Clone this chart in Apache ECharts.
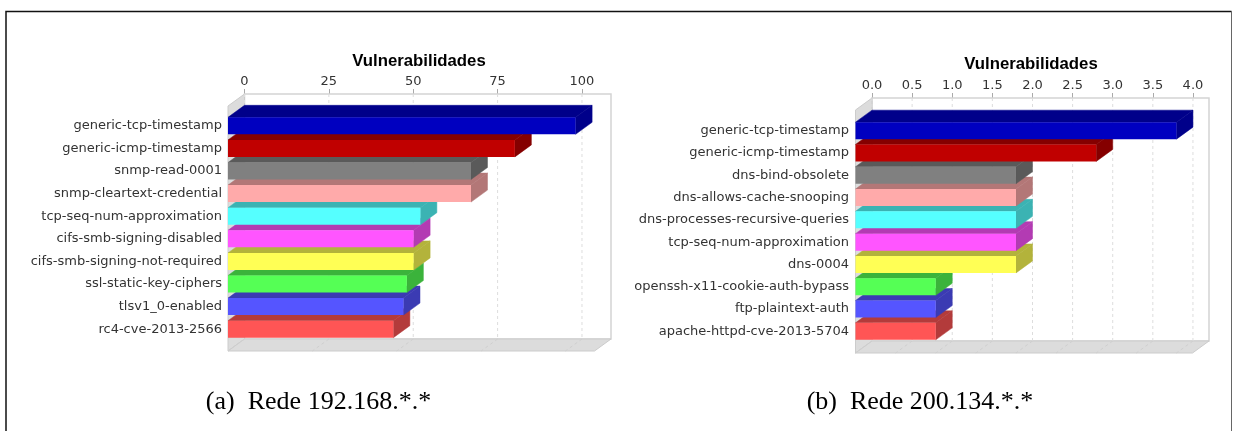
<!DOCTYPE html>
<html>
<head>
<meta charset="utf-8">
<style>
  html, body { margin: 0; padding: 0; background: #fff; }
  #chart { width: 1233px; height: 431px; }
</style>
<script src="https://cdn.jsdelivr.net/npm/echarts@6/dist/echarts.min.js"></script>
</head>
<body>
<div id="chart"></div>
<script>
const leftCategories = ['generic-tcp-timestamp', 'generic-icmp-timestamp', 'snmp-read-0001', 'snmp-cleartext-credential', 'tcp-seq-num-approximation', 'cifs-smb-signing-disabled', 'cifs-smb-signing-not-required', 'ssl-static-key-ciphers', 'tlsv1_0-enabled', 'rc4-cve-2013-2566']
const leftValues = [103, 85, 72, 72, 57, 55, 55, 53, 52, 49]
const leftTicks = [0, 25, 50, 75, 100]

const rightCategories = ['generic-tcp-timestamp', 'generic-icmp-timestamp', 'dns-bind-obsolete', 'dns-allows-cache-snooping', 'dns-processes-recursive-queries', 'tcp-seq-num-approximation', 'dns-0004', 'openssh-x11-cookie-auth-bypass', 'ftp-plaintext-auth', 'apache-httpd-cve-2013-5704']
const rightValues = [4, 3, 2, 2, 2, 2, 2, 1, 1, 1]
const rightTicks = [0, 0.5, 1, 1.5, 2, 2.5, 3, 3.5, 4]

const frontColors = ['#0000c0', '#c00000', '#808080', '#ffaaaa', '#55ffff', '#ff55ff', '#ffff55', '#55ff55', '#5555ff', '#ff5555']
const shadeColors = ['#00008a', '#850000', '#5a5a5a', '#b37777', '#3bb3b3', '#b33bb3', '#b3b33b', '#3bb33b', '#3b3bb3', '#b33b3b']

const axisTitle = 'Vulnerabilidades'
const captions = ['(a)  Rede 192.168.*.*', '(b)  Rede 200.134.*.*']

// 3d depth of the plot box
const dx = 16.5
const dy = 12
const barHeight = 17
const labelFont = 'DejaVu Sans'

const plots = [
  { left: 244.5, width: 366.5, top: 114.5, height: 226, wallTop: 94, wallBottom: 339, max: 108.6, margin: 22.5, categories: leftCategories, values: leftValues, ticks: leftTicks, fmt: v => String(v) },
  { left: 872, width: 337, top: 119.5, height: 223, wallTop: 98, wallBottom: 341, max: 4.2, margin: 23, categories: rightCategories, values: rightValues, ticks: rightTicks, fmt: v => v.toFixed(1) }
]

function wallSeries(p, idx) {
  return {
    type: 'custom',
    xAxisIndex: idx,
    yAxisIndex: idx,
    silent: true,
    clip: false,
    z: 1,
    data: [[0, 0]],
    renderItem() {
      const l = p.left, r = p.left + p.width, t = p.wallTop, b = p.wallBottom
      const line = { fill: '#dcdcdc', stroke: '#cccccc', lineWidth: 1 }
      return {
        type: 'group',
        children: [
          { type: 'rect', shape: { x: l, y: t, width: p.width, height: b - t }, style: { fill: '#fff', stroke: '#d4d4d4', lineWidth: 1.5 } },
          { type: 'polygon', shape: { points: [[l - dx, t + dy], [l, t], [l, b], [l - dx, b + dy]] }, style: line },
          { type: 'polygon', shape: { points: [[l - dx, b + dy], [l, b], [r, b], [r - dx, b + dy]] }, style: line }
        ]
      }
    }
  }
}

function gridSeries(p, idx) {
  return {
    type: 'custom',
    xAxisIndex: idx,
    yAxisIndex: idx,
    silent: true,
    clip: false,
    z: 2,
    data: p.ticks.map(t => [t, 0]),
    renderItem(params, api) {
      const x = api.coord([api.value(0), 0])[0]
      return {
        type: 'group',
        children: [
          { type: 'line', shape: { x1: x, y1: p.wallTop, x2: x, y2: p.wallBottom }, style: { stroke: '#dddddd', lineWidth: 1, lineDash: [3, 3] } },
          { type: 'line', shape: { x1: x, y1: p.wallBottom, x2: x - dx, y2: p.wallBottom + dy }, style: { stroke: '#cfcfcf', lineWidth: 1, lineDash: [3, 3] } }
        ]
      }
    }
  }
}

function barSeries(p, idx) {
  return {
    type: 'custom',
    xAxisIndex: idx,
    yAxisIndex: idx,
    silent: true,
    clip: false,
    z: 3,
    // bottom bar first, so the upper bar's front covers the top face below it
    data: p.values.map((v, i) => [v, i]).reverse(),
    renderItem(params, api) {
      const i = api.value(1)
      const start = api.coord([0, i])
      const end = api.coord([api.value(0), i])
      const x0 = start[0] - dx
      const x1 = end[0] - dx
      const y0 = end[1] - barHeight / 2
      const y1 = y0 + barHeight
      const shade = { fill: shadeColors[i], stroke: shadeColors[i], lineWidth: 0.5 }
      return {
        type: 'group',
        children: [
          { type: 'polygon', shape: { points: [[x0, y0], [x0 + dx, y0 - dy], [x1 + dx, y0 - dy], [x1, y0]] }, style: shade },
          { type: 'polygon', shape: { points: [[x1, y0], [x1 + dx, y0 - dy], [x1 + dx, y1 - dy], [x1, y1]] }, style: shade },
          { type: 'rect', shape: { x: x0, y: y0, width: x1 - x0, height: barHeight }, style: { fill: frontColors[i] } }
        ]
      }
    }
  }
}

const chart = echarts.init(document.getElementById('chart'), null, { renderer: 'canvas' })

chart.setOption({
  animation: false,
  backgroundColor: '#fff',
  title: [
    { text: axisTitle, left: 414, top: 56, textAlign: 'center', textVerticalAlign: 'middle', textStyle: { fontFamily: 'Liberation Sans', fontSize: 16.75, fontWeight: 'bold', color: '#000' } },
    { text: axisTitle, left: 1026, top: 59, textAlign: 'center', textVerticalAlign: 'middle', textStyle: { fontFamily: 'Liberation Sans', fontSize: 16.75, fontWeight: 'bold', color: '#000' } },
    { text: captions[0], left: 313.5, top: 397.5, textAlign: 'center', textVerticalAlign: 'middle', textStyle: { fontFamily: 'Liberation Serif', fontSize: 26, fontWeight: 'normal', color: '#000' } },
    { text: captions[1], left: 915, top: 397.5, textAlign: 'center', textVerticalAlign: 'middle', textStyle: { fontFamily: 'Liberation Serif', fontSize: 26, fontWeight: 'normal', color: '#000' } }
  ],
  graphic: [{
    type: 'polyline',
    silent: true,
    shape: { points: [[6, 431], [6, 11.5], [1231.5, 11.5]] },
    style: { stroke: '#111', lineWidth: 1.5, fill: null }
  }, {
    type: 'line',
    silent: true,
    shape: { x1: 1231.5, y1: 11, x2: 1231.5, y2: 431 },
    style: { stroke: '#666', lineWidth: 1 }
  }],
  grid: plots.map(p => ({ left: p.left, top: p.top, width: p.width, height: p.height, containLabel: false })),
  xAxis: plots.map((p, idx) => ({
    type: 'value',
    gridIndex: idx,
    position: 'top',
    offset: p.top - p.wallTop,
    min: 0,
    max: p.max,
    axisLine: { show: false },
    splitLine: { show: false },
    axisTick: { show: true, length: 5, customValues: p.ticks, lineStyle: { color: '#aaaaaa' } },
    axisLabel: { margin: 6, customValues: p.ticks, formatter: p.fmt, fontFamily: labelFont, fontSize: 13, color: '#333' }
  })),
  yAxis: plots.map((p, idx) => ({
    type: 'category',
    gridIndex: idx,
    inverse: true,
    data: p.categories,
    axisLine: { show: false },
    axisTick: { show: false },
    splitLine: { show: false },
    axisLabel: { margin: p.margin, interval: 0, fontFamily: labelFont, fontSize: 13, color: '#333' }
  })),
  series: plots.flatMap((p, idx) => [wallSeries(p, idx), gridSeries(p, idx), barSeries(p, idx)])
})
</script>
</body>
</html>
